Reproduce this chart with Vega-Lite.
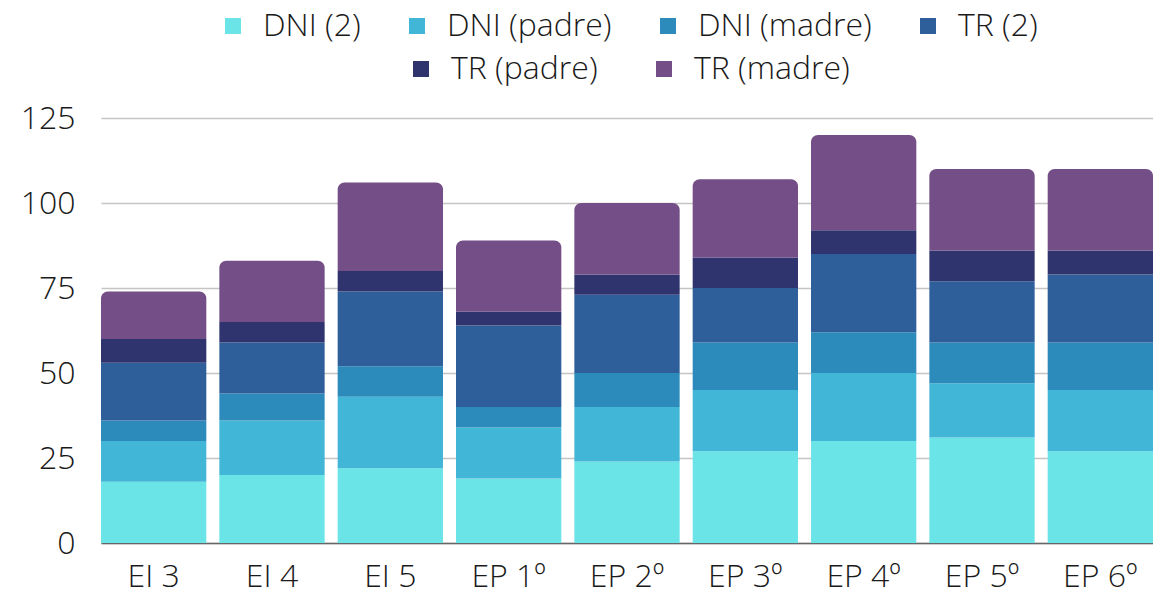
{
  "$schema": "https://vega.github.io/schema/vega-lite/v6.json",
  "width": 1052,
  "height": 425,
  "autosize": {"type": "none"},
  "padding": {"left": 101, "top": 118, "right": 0, "bottom": 52},
  "background": "white",
  "config": {
    "font": "Open Sans",
    "view": {"stroke": null},
    "axis": {"labelFont": "Open Sans", "labelFontSize": 32, "labelFontWeight": 300, "labelColor": "#1a1a1a", "title": null},
    "legend": {
      "labelFont": "Open Sans", "labelFontSize": 32, "labelFontWeight": 300, "labelColor": "#1a1a1a", "labelLimit": 400,
      "layout": {"top": {"anchor": "middle", "direction": "vertical", "center": true, "margin": 11}}
    }
  },
  "data": {
    "values": [
      {"cat": "EI 3", "serie": "DNI (2)", "ord": 1, "v": 18},
      {"cat": "EI 3", "serie": "DNI (padre)", "ord": 2, "v": 12},
      {"cat": "EI 3", "serie": "DNI (madre)", "ord": 3, "v": 6},
      {"cat": "EI 3", "serie": "TR (2)", "ord": 4, "v": 17},
      {"cat": "EI 3", "serie": "TR (padre)", "ord": 5, "v": 7},
      {"cat": "EI 3", "serie": "TR (madre)", "ord": 6, "v": 14},
      {"cat": "EI 4", "serie": "DNI (2)", "ord": 1, "v": 20},
      {"cat": "EI 4", "serie": "DNI (padre)", "ord": 2, "v": 16},
      {"cat": "EI 4", "serie": "DNI (madre)", "ord": 3, "v": 8},
      {"cat": "EI 4", "serie": "TR (2)", "ord": 4, "v": 15},
      {"cat": "EI 4", "serie": "TR (padre)", "ord": 5, "v": 6},
      {"cat": "EI 4", "serie": "TR (madre)", "ord": 6, "v": 18},
      {"cat": "EI 5", "serie": "DNI (2)", "ord": 1, "v": 22},
      {"cat": "EI 5", "serie": "DNI (padre)", "ord": 2, "v": 21},
      {"cat": "EI 5", "serie": "DNI (madre)", "ord": 3, "v": 9},
      {"cat": "EI 5", "serie": "TR (2)", "ord": 4, "v": 22},
      {"cat": "EI 5", "serie": "TR (padre)", "ord": 5, "v": 6},
      {"cat": "EI 5", "serie": "TR (madre)", "ord": 6, "v": 26},
      {"cat": "EP 1º", "serie": "DNI (2)", "ord": 1, "v": 19},
      {"cat": "EP 1º", "serie": "DNI (padre)", "ord": 2, "v": 15},
      {"cat": "EP 1º", "serie": "DNI (madre)", "ord": 3, "v": 6},
      {"cat": "EP 1º", "serie": "TR (2)", "ord": 4, "v": 24},
      {"cat": "EP 1º", "serie": "TR (padre)", "ord": 5, "v": 4},
      {"cat": "EP 1º", "serie": "TR (madre)", "ord": 6, "v": 21},
      {"cat": "EP 2º", "serie": "DNI (2)", "ord": 1, "v": 24},
      {"cat": "EP 2º", "serie": "DNI (padre)", "ord": 2, "v": 16},
      {"cat": "EP 2º", "serie": "DNI (madre)", "ord": 3, "v": 10},
      {"cat": "EP 2º", "serie": "TR (2)", "ord": 4, "v": 23},
      {"cat": "EP 2º", "serie": "TR (padre)", "ord": 5, "v": 6},
      {"cat": "EP 2º", "serie": "TR (madre)", "ord": 6, "v": 21},
      {"cat": "EP 3º", "serie": "DNI (2)", "ord": 1, "v": 27},
      {"cat": "EP 3º", "serie": "DNI (padre)", "ord": 2, "v": 18},
      {"cat": "EP 3º", "serie": "DNI (madre)", "ord": 3, "v": 14},
      {"cat": "EP 3º", "serie": "TR (2)", "ord": 4, "v": 16},
      {"cat": "EP 3º", "serie": "TR (padre)", "ord": 5, "v": 9},
      {"cat": "EP 3º", "serie": "TR (madre)", "ord": 6, "v": 23},
      {"cat": "EP 4º", "serie": "DNI (2)", "ord": 1, "v": 30},
      {"cat": "EP 4º", "serie": "DNI (padre)", "ord": 2, "v": 20},
      {"cat": "EP 4º", "serie": "DNI (madre)", "ord": 3, "v": 12},
      {"cat": "EP 4º", "serie": "TR (2)", "ord": 4, "v": 23},
      {"cat": "EP 4º", "serie": "TR (padre)", "ord": 5, "v": 7},
      {"cat": "EP 4º", "serie": "TR (madre)", "ord": 6, "v": 28},
      {"cat": "EP 5º", "serie": "DNI (2)", "ord": 1, "v": 31},
      {"cat": "EP 5º", "serie": "DNI (padre)", "ord": 2, "v": 16},
      {"cat": "EP 5º", "serie": "DNI (madre)", "ord": 3, "v": 12},
      {"cat": "EP 5º", "serie": "TR (2)", "ord": 4, "v": 18},
      {"cat": "EP 5º", "serie": "TR (padre)", "ord": 5, "v": 9},
      {"cat": "EP 5º", "serie": "TR (madre)", "ord": 6, "v": 24},
      {"cat": "EP 6º", "serie": "DNI (2)", "ord": 1, "v": 27},
      {"cat": "EP 6º", "serie": "DNI (padre)", "ord": 2, "v": 18},
      {"cat": "EP 6º", "serie": "DNI (madre)", "ord": 3, "v": 14},
      {"cat": "EP 6º", "serie": "TR (2)", "ord": 4, "v": 20},
      {"cat": "EP 6º", "serie": "TR (padre)", "ord": 5, "v": 7},
      {"cat": "EP 6º", "serie": "TR (madre)", "ord": 6, "v": 24}
    ]
  },
  "transform": [
    {"stack": "v", "groupby": ["cat"], "sort": [{"field": "ord", "order": "ascending"}], "as": ["y0", "y1"]}
  ],
  "encoding": {
    "x": {
      "field": "cat", "type": "nominal",
      "sort": ["EI 3", "EI 4", "EI 5", "EP 1º", "EP 2º", "EP 3º", "EP 4º", "EP 5º", "EP 6º"],
      "scale": {"paddingInner": 0.11, "paddingOuter": 0},
      "axis": {"labelAngle": 0, "ticks": false, "labelPadding": 18, "domainColor": "#666666", "domainWidth": 1.5}
    },
    "y": {
      "field": "y1", "type": "quantitative",
      "scale": {"domain": [0, 125]},
      "axis": {"values": [0, 25, 50, 75, 100, 125], "domain": false, "ticks": false, "labelPadding": 26, "gridColor": "#c4c4c4", "gridWidth": 1.5}
    },
    "y2": {"field": "y0"}
  },
  "layer": [
    {
      "transform": [{"filter": "datum.ord <= 4"}],
      "mark": {"type": "bar"},
      "encoding": {
        "color": {
          "field": "serie", "type": "nominal",
          "scale": {
            "domain": ["DNI (2)", "DNI (padre)", "DNI (madre)", "TR (2)"],
            "range": ["#6be4e8", "#42b6d6", "#2c8bba", "#2e5f9a"]
          },
          "legend": {
            "title": null, "orient": "top", "direction": "horizontal",
            "symbolType": "square", "symbolSize": 256, "symbolStrokeWidth": 0,
            "columnPadding": 40, "labelOffset": 14, "offset": 33
          }
        }
      }
    },
    {
      "transform": [{"filter": "datum.ord == 5"}],
      "mark": {"type": "bar"},
      "encoding": {
        "fill": {
          "field": "serie", "type": "nominal",
          "scale": {
            "domain": ["TR (padre)", "TR (madre)"],
            "range": ["#30346e", "#734e87"]
          },
          "legend": {
            "title": null, "orient": "top", "direction": "horizontal",
            "symbolType": "square", "symbolSize": 256, "symbolStrokeWidth": 0,
            "columnPadding": 50, "labelOffset": 14, "offset": 33
          }
        }
      }
    },
    {
      "transform": [{"filter": "datum.ord == 6"}],
      "mark": {"type": "bar", "cornerRadiusTopLeft": 7, "cornerRadiusTopRight": 7},
      "encoding": {
        "fill": {"field": "serie", "type": "nominal"}
      }
    }
  ]
}
